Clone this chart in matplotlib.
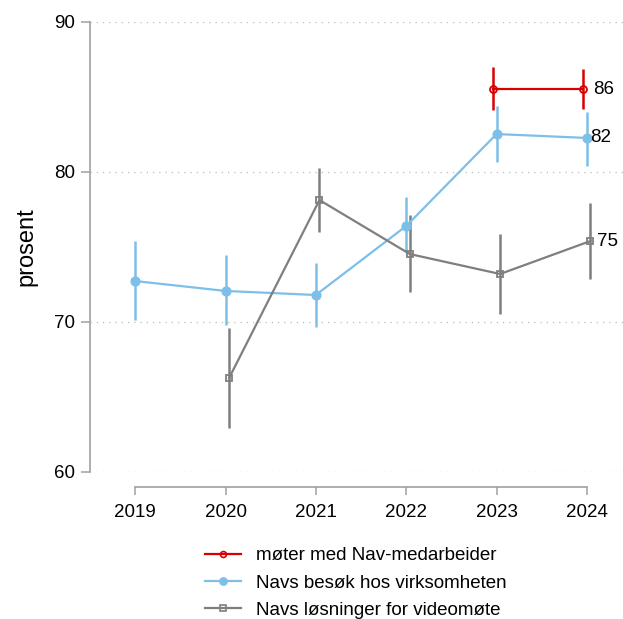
import numpy as np
import matplotlib.pyplot as plt
from matplotlib.lines import Line2D

plt.rcParams['font.family'] = ['Liberation Sans', 'DejaVu Sans']

years = [2019, 2020, 2021, 2022, 2023, 2024]

# møter med Nav-medarbeider (2023-2024)
red_years = [2023, 2024]
red_val = [85.53, 85.53]
red_lo = [84.13, 84.2]
red_hi = [86.97, 86.9]

# Navs besøk hos virksomheten
blue_years = [2019, 2020, 2021, 2022, 2023, 2024]
blue_val = [72.73, 72.07, 71.8, 76.4, 82.53, 82.27]
blue_lo = [70.13, 69.8, 69.67, 74.67, 80.67, 80.4]
blue_hi = [75.4, 74.47, 73.93, 78.33, 84.4, 84.0]

# Navs løsninger for videomøte (2020-2024)
gray_years = [2020, 2021, 2022, 2023, 2024]
gray_val = [66.27, 78.13, 74.53, 73.2, 75.4]
gray_lo = [62.93, 76.0, 72.0, 70.53, 72.87]
gray_hi = [69.6, 80.27, 77.13, 75.87, 77.93]

series = [
    ("møter med Nav-medarbeider", red_years, red_val, red_lo, red_hi, '#d90000', 'o', 'none', -0.04, "86", 0.11),
    ("Navs besøk hos virksomheten", blue_years, blue_val, blue_lo, blue_hi, '#7dbfe8', 'o', '#7dbfe8', 0.0, "82", 0.035),
    ("Navs løsninger for videomøte", gray_years, gray_val, gray_lo, gray_hi, '#7f7f7f', 's', 'none', 0.04, "75", 0.07),
]

fig = plt.figure(figsize=(6.23, 6.19), dpi=100)
ax = fig.add_axes([90 / 623, 1 - 472 / 619, 533 / 623, 450 / 619])

handles = []
for name, xs, vals, lo, hi, col, mk, mfc, off, lab, loff in series:
    x = np.array(xs) + off
    v = np.array(vals)
    yerr = [v - np.array(lo), np.array(hi) - v]
    msize = 6 if mfc != 'none' else 5
    ax.errorbar(x, v, yerr=yerr, color=col, ecolor=col, elinewidth=1.8, capsize=0,
                lw=1.6, marker=mk, ms=msize, mfc=mfc, mec=col, mew=1.3)
    ax.text(x[-1] + loff, v[-1], lab, fontsize=13.5, va='center', ha='left')
    handles.append(Line2D([], [], color=col, lw=1.6, marker=mk, ms=msize * 0.85,
                          mfc=mfc, mec=col, mew=1.2, label=name))

ax.set_xlim(2018.5, 2024.4)
ax.set_ylim(60, 90)
ax.set_yticks([60, 70, 80, 90])
ax.set_xticks(years)
ax.tick_params(axis='both', labelsize=13.5, color='#a0a0a0', width=1.1)
ax.tick_params(axis='y', pad=4, length=6.5)
ax.tick_params(axis='x', pad=6, length=6)
ax.grid(axis='y', linestyle=(0, (1, 4)), color='#bbbbbb', lw=0.9)
ax.set_axisbelow(True)

for s in ['top', 'right']:
    ax.spines[s].set_visible(False)
ax.spines['left'].set_color('#a0a0a0')
ax.spines['left'].set_linewidth(1.2)
ax.spines['left'].set_bounds(60, 90)
ax.spines['bottom'].set_color('#a0a0a0')
ax.spines['bottom'].set_linewidth(1.2)
ax.spines['bottom'].set_bounds(2019, 2024)
ax.spines['bottom'].set_position(('outward', 11))

ax.set_ylabel("prosent", fontsize=17, labelpad=12)

fig.legend(handles=handles, loc='upper left', bbox_to_anchor=(205 / 623, 1 - 547 / 619),
           frameon=False, fontsize=13.5, handlelength=1.9, labelspacing=0.55,
           handletextpad=0.8, borderpad=0, borderaxespad=0)

fig.savefig("out.png", dpi=100)
